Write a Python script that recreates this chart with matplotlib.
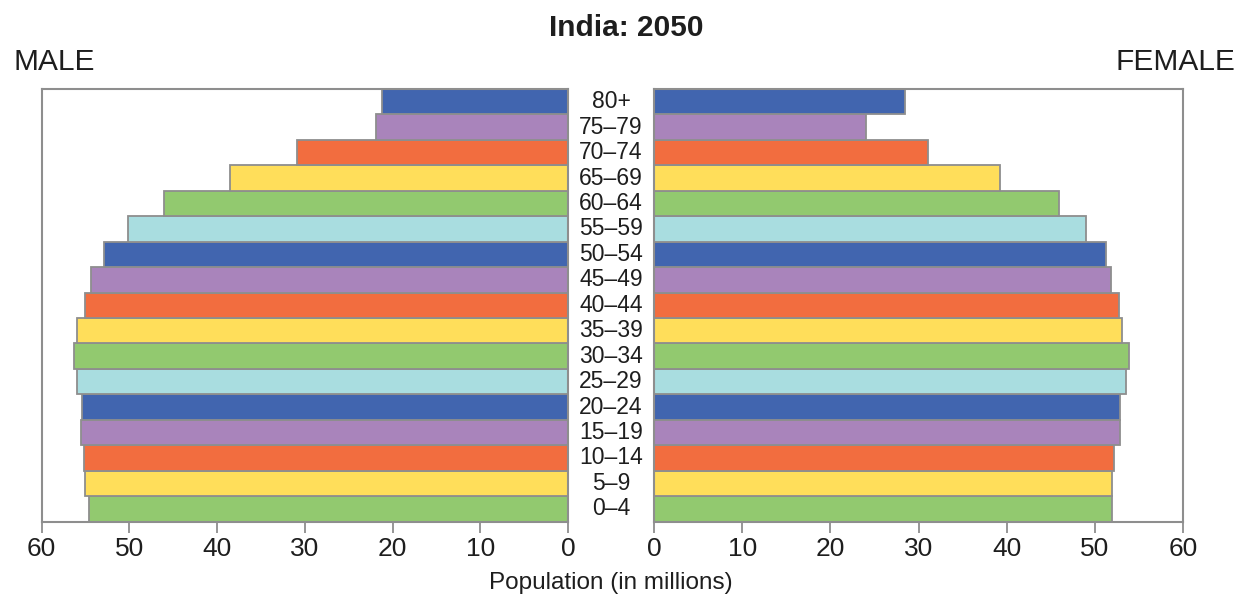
import matplotlib
matplotlib.use("Agg")
import matplotlib.pyplot as plt
import numpy as np

plt.rcParams['font.family'] = ['Liberation Sans', 'DejaVu Sans']

age_groups = ["0\u20134", "5\u20139", "10\u201314", "15\u201319", "20\u201324", "25\u201329",
              "30\u201334", "35\u201339", "40\u201344", "45\u201349", "50\u201354", "55\u201359",
              "60\u201364", "65\u201369", "70\u201374", "75\u201379", "80+"]
male = [54.6, 55.0, 55.2, 55.5, 55.4, 56.0, 56.3, 55.9, 55.0, 54.4, 52.9, 50.1,
        46.0, 38.5, 30.9, 21.9, 21.2]
female = [52.0, 51.9, 52.2, 52.8, 52.9, 53.5, 53.9, 53.1, 52.7, 51.8, 51.3, 49.0,
          45.9, 39.3, 31.1, 24.0, 28.5]
palette = ["#92C96F", "#FFDE5A", "#F26D3F", "#A984BB", "#4165AF", "#A9DDE0"]
bar_colors = [palette[i % len(palette)] for i in range(len(age_groups))]
ticks = [0, 10, 20, 30, 40, 50, 60]

edge = "#8E8E8E"
text_col = "#1E1E1E"

fig = plt.figure(figsize=(12.39, 5.99), dpi=100)
W, H = 1239, 599
bottom = 1 - 521.5 / H
height = (521.5 - 89) / H
ax_m = fig.add_axes([41.5 / W, bottom, (568 - 41.5) / W, height])
ax_f = fig.add_axes([654 / W, bottom, (1183 - 654) / W, height])

y = np.arange(len(age_groups))
ax_m.barh(y, male, height=1.0, color=bar_colors, edgecolor=edge, linewidth=1.3)
ax_f.barh(y, female, height=1.0, color=bar_colors, edgecolor=edge, linewidth=1.3)

ax_m.set_xlim(60, 0)
ax_f.set_xlim(0, 60)
for ax in (ax_m, ax_f):
    ax.set_ylim(-0.5, len(age_groups) - 0.5)
    ax.set_yticks([])
    ax.set_xticks(ticks)
    ax.set_xticklabels([str(t) for t in ticks])
    ax.tick_params(axis='x', direction='out', length=8, width=1.3, color=edge,
                   labelsize=19, labelcolor=text_col, pad=3)
    for s in ax.spines.values():
        s.set_color(edge)
        s.set_linewidth(1.5)

# age group labels in the central gap
mid_x = (568 + 654) / 2 / W
for i, lab in enumerate(age_groups):
    yy = bottom + height * (i + 0.5) / len(age_groups)
    fig.text(mid_x, yy, lab, ha='center', va='center', fontsize=16.5, color=text_col)

fig.text(626 / W, 1 - 28 / H, "India: 2050", ha='center', va='center',
         fontsize=21.5, fontweight='bold', color=text_col)
fig.text(14 / W, 1 - 62 / H, "MALE", ha='left', va='center', fontsize=21.5, color=text_col)
fig.text(1235 / W, 1 - 62 / H, "FEMALE", ha='right', va='center', fontsize=21.5, color=text_col)
fig.text(611 / W, 1 - 583 / H, "Population (in millions)", ha='center', va='center',
         fontsize=17.5, color=text_col)

fig.savefig("out.png", dpi=100, facecolor="white")
